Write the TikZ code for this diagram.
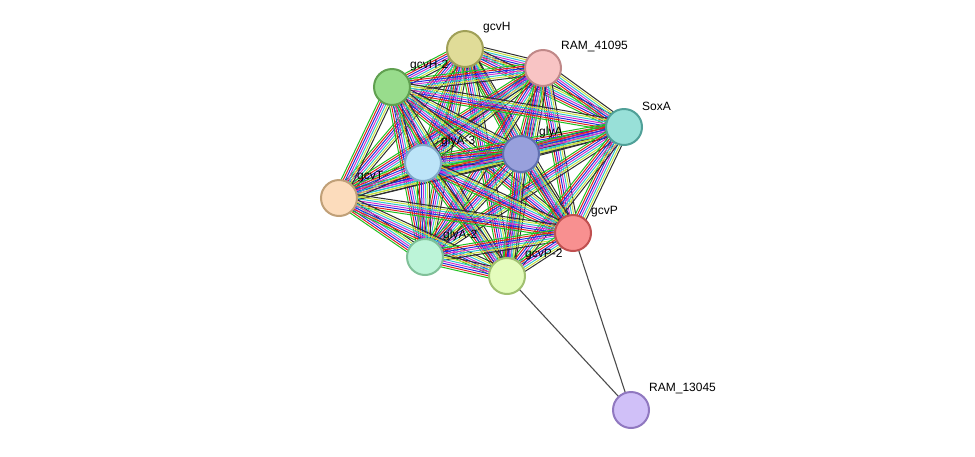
\documentclass[tikz,border=0pt]{standalone}
\usepackage{fontspec}
\setmainfont{Liberation Sans}
\usetikzlibrary{calc}
\begin{document}
\begin{tikzpicture}[x=1pt,y=-1pt,
  prot/.style={circle,minimum size=36pt,inner sep=0pt,line width=2pt},
  lab/.style={font=\fontsize{12}{14}\selectfont,anchor=south west,inner sep=0pt},
  gray edge/.style={draw=black!70,line width=1.1pt}]
\useasboundingbox (0,0) rectangle (975,456);
\definecolor{eg}{HTML}{20C020}\definecolor{er}{HTML}{E02020}\definecolor{eb}{HTML}{2030E0}
\definecolor{em}{HTML}{D030D0}\definecolor{ec}{HTML}{30C0D0}\definecolor{ey}{HTML}{C8E040}
\definecolor{ek}{HTML}{303030}
\coordinate (gcvH) at (465,49);
\coordinate (R41) at (543,68);
\coordinate (gcvH2) at (392,87);
\coordinate (SoxA) at (624,127);
\coordinate (glyA) at (521,154);
\coordinate (glyA3) at (423,163);
\coordinate (gcvT) at (339,198);
\coordinate (gcvP) at (573,233);
\coordinate (glyA2) at (425,257);
\coordinate (gcvP2) at (507,276);
\coordinate (R13) at (631,410);
\newcommand{\bundle}[2]{%
  \foreach \cc/\oo in {eg/-6,er/-4,eb/-2,em/0,ec/2,ey/4,ek/6}{
    \draw[\cc,line width=1pt] ($(#1)!\oo pt!90:(#2)$) -- ($(#2)!\oo pt!-90:(#1)$);
  }}
\foreach \a/\b in {gcvH/R41,gcvH/gcvH2,gcvH/SoxA,gcvH/glyA,gcvH/glyA3,gcvH/gcvT,gcvH/gcvP,gcvH/glyA2,gcvH/gcvP2,
  R41/gcvH2,R41/SoxA,R41/glyA,R41/glyA3,R41/gcvT,R41/gcvP,R41/glyA2,R41/gcvP2,
  gcvH2/SoxA,gcvH2/glyA,gcvH2/glyA3,gcvH2/gcvT,gcvH2/gcvP,gcvH2/glyA2,gcvH2/gcvP2,
  SoxA/glyA,SoxA/glyA3,SoxA/gcvT,SoxA/gcvP,SoxA/glyA2,SoxA/gcvP2,
  glyA/glyA3,glyA/gcvT,glyA/gcvP,glyA/glyA2,glyA/gcvP2,
  glyA3/gcvT,glyA3/gcvP,glyA3/glyA2,glyA3/gcvP2,
  gcvT/gcvP,gcvT/glyA2,gcvT/gcvP2,
  gcvP/glyA2,gcvP/gcvP2,glyA2/gcvP2}{\bundle{\a}{\b}}
\draw[gray edge] (gcvP2) -- (R13);
\draw[gray edge] (gcvP) -- (R13);
\foreach \n/\f/\d/\t in {gcvH/E0DC98/A0A058/gcvH, R41/F8C4C4/C08888/RAM\_41095, gcvH2/98DC8C/60A050/gcvH-2,
  SoxA/98E0D8/50A098/SoxA, glyA/98A0DC/6070B0/glyA, glyA3/BCE4F8/80A8C8/glyA-3, gcvT/FCDCBC/C0A078/gcvT,
  gcvP/F89090/C05050/gcvP, glyA2/BCF4D8/80C098/glyA-2, gcvP2/E4FCBC/A0C070/gcvP-2, R13/D0C0F8/9078C0/RAM\_13045}{
  \definecolor{fc}{HTML}{\f}\definecolor{dc}{HTML}{\d}
  \node[prot,fill=fc,draw=dc] (n\n) at (\n) {};
  \node[lab] (l\n) at ($(\n)+(18,-16)$) {\t};
}
\end{tikzpicture}
\end{document}
